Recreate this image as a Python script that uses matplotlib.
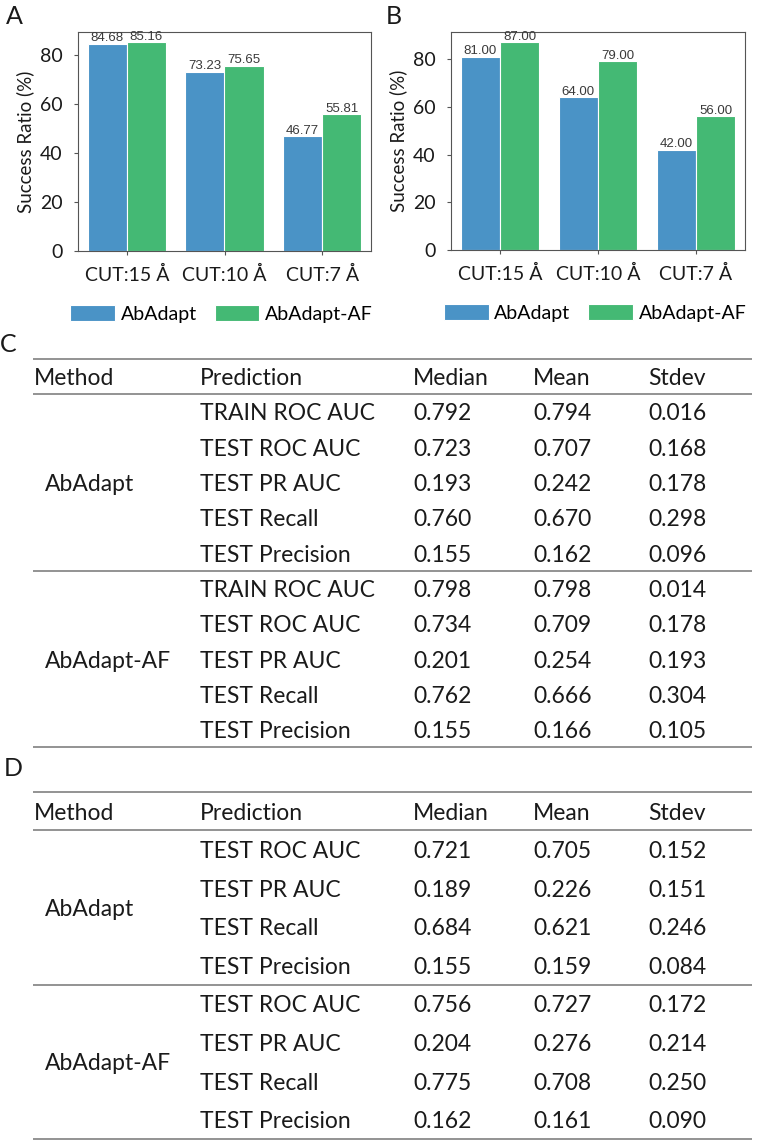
import matplotlib
matplotlib.use("Agg")
import matplotlib.pyplot as plt
import numpy as np

# ---------------- data ----------------
categories = ["CUT:15 Å", "CUT:10 Å", "CUT:7 Å"]
series_names = ["AbAdapt", "AbAdapt-AF"]
a_abadapt = [84.68, 73.23, 46.77]
a_af = [85.16, 75.65, 55.81]
b_abadapt = [81.00, 64.00, 42.00]
b_af = [87.00, 79.00, 56.00]
y_ticks = [0, 20, 40, 60, 80]

table_header = ["Method", "Prediction", "Median", "Mean", "Stdev"]
methods = ["AbAdapt", "AbAdapt-AF"]

c_predictions = ["TRAIN ROC AUC", "TEST ROC AUC", "TEST PR AUC", "TEST Recall", "TEST Precision"]
c_median_abadapt = [0.792, 0.723, 0.193, 0.760, 0.155]
c_mean_abadapt = [0.794, 0.707, 0.242, 0.670, 0.162]
c_stdev_abadapt = [0.016, 0.168, 0.178, 0.298, 0.096]
c_median_af = [0.798, 0.734, 0.201, 0.762, 0.155]
c_mean_af = [0.798, 0.709, 0.254, 0.666, 0.166]
c_stdev_af = [0.014, 0.178, 0.193, 0.304, 0.105]

d_predictions = ["TEST ROC AUC", "TEST PR AUC", "TEST Recall", "TEST Precision"]
d_median_abadapt = [0.721, 0.189, 0.684, 0.155]
d_mean_abadapt = [0.705, 0.226, 0.621, 0.159]
d_stdev_abadapt = [0.152, 0.151, 0.246, 0.084]
d_median_af = [0.756, 0.204, 0.775, 0.162]
d_mean_af = [0.727, 0.276, 0.708, 0.161]
d_stdev_af = [0.172, 0.214, 0.250, 0.090]

# ---------------- style ----------------
W, H = 758, 1142
BLUE = "#4a93c6"
GREEN = "#44b974"
MAIN_FONT = ["Lato", "DejaVu Sans"]
NUM_FONT = ["Liberation Sans", "DejaVu Sans"]
TXT = "#1a1a1a"
plt.rcParams["font.family"] = MAIN_FONT

fig = plt.figure(figsize=(W / 100, H / 100), dpi=100)


def px_axes(left, top, right, bottom):
    return fig.add_axes([left / W, 1 - bottom / H, (right - left) / W, (bottom - top) / H])


def bar_panel(ax, v1, v2):
    x = np.arange(len(categories))
    w = 0.4
    b1 = ax.bar(x - w / 2, v1, w, color=BLUE, edgecolor="white", linewidth=0.8, label=series_names[0])
    b2 = ax.bar(x + w / 2, v2, w, color=GREEN, edgecolor="white", linewidth=0.8, label=series_names[1])
    for bars in (b1, b2):
        for rect in bars:
            h = rect.get_height()
            ax.text(rect.get_x() + rect.get_width() / 2, h - 0.3, f"{h:.2f}", ha="center", va="bottom",
                    fontsize=9.5, color="#3a3a3a", family=NUM_FONT)
    ax.set_xlim(-0.5, 2.5)
    ax.set_ylim(0, max(max(v1), max(v2)) * 1.05)
    ax.set_xticks(x)
    ax.set_xticklabels(categories)
    ax.set_yticks(y_ticks)
    ax.set_ylabel("Success Ratio (%)", fontsize=13.5, color=TXT, labelpad=4)
    ax.tick_params(axis="both", labelsize=14, length=3, width=0.8, color="#555555", pad=8, labelcolor=TXT)
    for s in ax.spines.values():
        s.set_color("#555555")
        s.set_linewidth(0.8)
    ax.legend(loc="center", bbox_to_anchor=(0.49, -0.288), ncol=2, frameon=False, fontsize=14,
              handlelength=2.3, handleheight=0.85, handletextpad=0.3, columnspacing=0.9)


axA = px_axes(78, 32, 371, 251)
bar_panel(axA, a_abadapt, a_af)
axB = px_axes(451, 32, 745, 250)
bar_panel(axB, b_abadapt, b_af)

# ---------------- tables ----------------
tab = fig.add_axes([0, 0, 1, 1])
tab.set_xlim(0, W)
tab.set_ylim(H, 0)
tab.axis("off")

col_x = [34, 200, 413, 533, 648]
line_x0, line_x1 = 33, 752
TFS = 16.5
LINE_C = "#8a8a8a"


def hline(y):
    tab.plot([line_x0, line_x1], [y, y], color=LINE_C, lw=1.3, solid_capstyle="butt")


def draw_table(top, header_h, row_h, predictions, groups):
    hline(top)
    hy = top + header_h / 2
    for cx, t in zip(col_x, table_header):
        tab.text(cx, hy, t, ha="left", va="center_baseline", fontsize=TFS, color=TXT)
    y0 = top + header_h
    hline(y0)
    for g, (mname, med, mean, sd) in enumerate(groups):
        gtop = y0 + g * len(predictions) * row_h
        for i, p in enumerate(predictions):
            cy = gtop + (i + 0.5) * row_h
            tab.text(col_x[1], cy, p, ha="left", va="center_baseline", fontsize=TFS, color=TXT)
            tab.text(col_x[2], cy, f"{med[i]:.3f}", ha="left", va="center_baseline", fontsize=TFS, color=TXT)
            tab.text(col_x[3], cy, f"{mean[i]:.3f}", ha="left", va="center_baseline", fontsize=TFS, color=TXT)
            tab.text(col_x[4], cy, f"{sd[i]:.3f}", ha="left", va="center_baseline", fontsize=TFS, color=TXT)
        tab.text(45, gtop + len(predictions) * row_h / 2, mname, ha="left", va="center_baseline",
                 fontsize=TFS, color=TXT)
        hline(gtop + len(predictions) * row_h)


draw_table(359, 35.3, 35.3, c_predictions,
           [(methods[0], c_median_abadapt, c_mean_abadapt, c_stdev_abadapt),
            (methods[1], c_median_af, c_mean_af, c_stdev_af)])
draw_table(792, 38.3, 38.6, d_predictions,
           [(methods[0], d_median_abadapt, d_mean_abadapt, d_stdev_abadapt),
            (methods[1], d_median_af, d_mean_af, d_stdev_af)])

# panel letters
for letter, (lx, ly) in {"A": (6, 16), "B": (386, 16), "C": (0, 345), "D": (4, 768)}.items():
    tab.text(lx, ly, letter, ha="left", va="center", fontsize=18, color=TXT)

fig.savefig("out.png", dpi=100)
